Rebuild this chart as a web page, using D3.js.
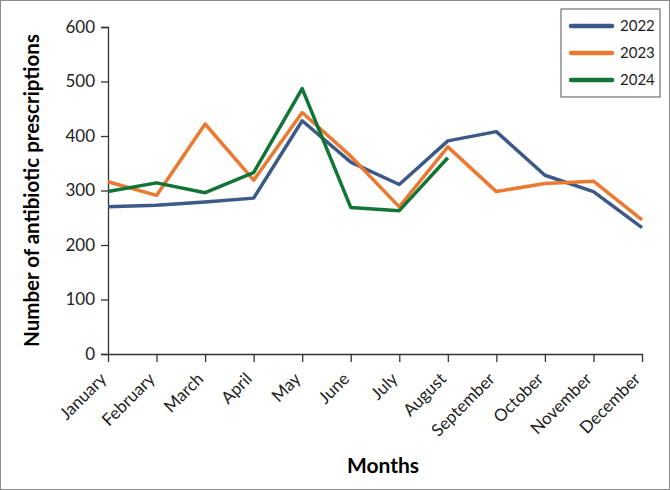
<!DOCTYPE html>
<html>
<head>
<meta charset="utf-8">
<script src="https://cdn.jsdelivr.net/npm/d3@7"></script>
<style>
  body { margin: 0; background: #fff; }
  svg { display: block; font-family: Lato, "Open Sans", sans-serif; }
</style>
</head>
<body>
<div id="chart"></div>
<script>
var months = ["January","February","March","April","May","June","July","August","September","October","November","December"]
var yTicks = [0,100,200,300,400,500,600]
var years = ["2022","2023","2024"]
var colors = ["#3c5a87","#ea7a31","#127436"]
var v2022 = [270,273,279,286,428,352,311,391,408,328,298,232]
var v2023 = [316,291,422,319,443,363,270,380,298,313,317,246]
var v2024 = [298,314,296,333,487,269,263,360]
var series = [v2022, v2023, v2024]

var w = 670, h = 490
var margin = {top: 27, right: 28, bottom: 136, left: 108}
var innerWidth = w - margin.left - margin.right
var innerHeight = h - margin.top - margin.bottom

var svg = d3.select("#chart").append("svg")
    .attr("width", w)
    .attr("height", h)

svg.append("rect")
    .attr("x", 0.5).attr("y", 0.5)
    .attr("width", w - 1).attr("height", h - 1)
    .attr("fill", "white")
    .attr("stroke", "#8a8a8a")

var xScale = d3.scalePoint().domain(months).range([0, innerWidth])
var yScale = d3.scaleLinear().domain([0, 600]).range([innerHeight, 0])

var g = svg.append("g").attr("transform", `translate(${margin.left},${margin.top})`)

var yAxis = d3.axisLeft(yScale).tickValues(yTicks).tickSize(7).tickPadding(6)
var gy = g.append("g").call(yAxis)
  .attr("font-family", null).attr("font-size", null)
gy.selectAll("text").attr("font-size", 17).attr("fill", "#222")

var xAxis = d3.axisBottom(xScale).tickSize(8).tickSizeOuter(0)
var gx = g.append("g").attr("transform", `translate(0,${innerHeight})`).call(xAxis)
  .attr("font-family", null).attr("font-size", null)
gx.selectAll("text")
    .attr("font-size", 17)
    .attr("fill", "#222")
    .attr("text-anchor", "end")
    .attr("x", 0).attr("y", 0).attr("dy", 0)
    .attr("transform", "translate(-1,26) rotate(-45)")

svg.selectAll(".domain, .tick line").attr("stroke", "#333").attr("stroke-width", 1.3)

var line = d3.line()
    .x((d, i) => xScale(months[i]))
    .y(d => yScale(d))

g.selectAll(".series")
  .data(series)
  .enter().append("path")
    .attr("d", d => line(d))
    .attr("fill", "none")
    .attr("stroke", (d, i) => colors[i])
    .attr("stroke-width", 3.5)
    .attr("stroke-linejoin", "round")

svg.append("text")
    .attr("transform", "translate(39," + (margin.top + innerHeight / 2) + ") rotate(-90)")
    .attr("text-anchor", "middle")
    .attr("font-weight", "bold")
    .attr("font-size", 20.5)
    .text("Number of antibiotic prescriptions")

svg.append("text")
    .attr("x", 383)
    .attr("y", 473)
    .attr("text-anchor", "middle")
    .attr("font-weight", "bold")
    .attr("font-size", 21)
    .text("Months")

// legend
var lg = svg.append("g").attr("transform", "translate(561,9)")
lg.append("rect")
    .attr("width", 99).attr("height", 88)
    .attr("fill", "white").attr("stroke", "#555")
years.forEach(function(y, i) {
  lg.append("line")
      .attr("x1", 10).attr("x2", 51)
      .attr("y1", 17 + i * 27).attr("y2", 17 + i * 27)
      .attr("stroke", colors[i]).attr("stroke-width", 4.5)
      .attr("stroke-linecap", "round")
  lg.append("text")
      .attr("x", 59).attr("y", 17 + i * 27)
      .attr("dy", "0.35em")
      .attr("font-size", 15)
      .attr("fill", "#222")
      .text(y)
})
</script>
</body>
</html>
